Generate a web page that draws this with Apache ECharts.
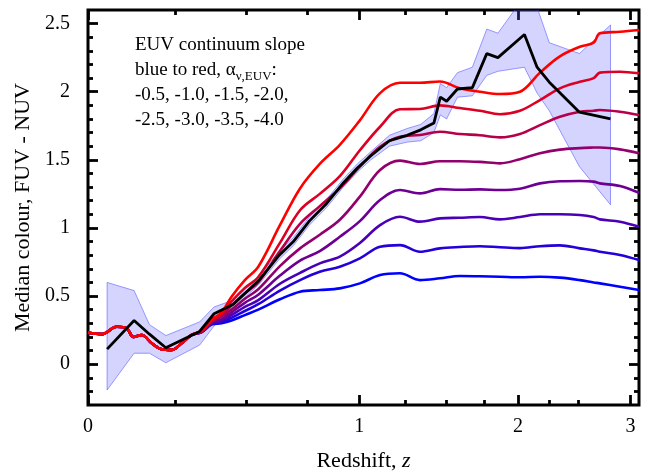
<!DOCTYPE html>
<html>
<head>
<meta charset="utf-8">
<script src="https://cdn.jsdelivr.net/npm/echarts@6/dist/echarts.min.js"></script>
<style>
  html, body { margin: 0; padding: 0; background: #fff; }
  #chart { width: 654px; height: 473px; }
</style>
</head>
<body>
<div id="chart"></div>
<script>
// Redshift grid shared by the model colour tracks
const zGrid = [0, 0.036, 0.076, 0.104, 0.123, 0.147, 0.177, 0.207, 0.238, 0.27, 0.303,
  0.337, 0.371, 0.407, 0.443, 0.493, 0.545, 0.633, 0.719, 0.808, 0.903, 1.003, 1.109,
  1.219, 1.335, 1.458, 1.586, 1.722, 1.865, 2.015, 2.173, 2.339, 2.514, 2.64, 2.698,
  2.893, 3.087];

// Model FUV - NUV tracks, one per EUV continuum slope
const slopeM05 = [0.23, 0.22, 0.275, 0.263, 0.20, 0.214, 0.153, 0.109, 0.104, 0.153, 0.214,
  0.235, 0.29, 0.30, 0.32, 0.36, 0.40, 0.476, 0.532, 0.544, 0.556, 0.593, 0.654, 0.667, 0.617,
  0.63, 0.647, 0.645, 0.642, 0.638, 0.642, 0.635, 0.617, 0.60, 0.593, 0.568, 0.544];
const slopeM10 = [0.23, 0.22, 0.275, 0.263, 0.20, 0.214, 0.153, 0.109, 0.104, 0.153, 0.214,
  0.236, 0.295, 0.31, 0.34, 0.39, 0.44, 0.54, 0.617, 0.678, 0.715, 0.777, 0.862, 0.874, 0.825,
  0.85, 0.86, 0.866, 0.858, 0.852, 0.866, 0.872, 0.850, 0.835, 0.825, 0.801, 0.764];
const slopeM15 = [0.23, 0.22, 0.275, 0.263, 0.20, 0.214, 0.153, 0.109, 0.104, 0.153, 0.214,
  0.237, 0.30, 0.32, 0.36, 0.42, 0.47, 0.59, 0.67, 0.74, 0.79, 0.89, 1.021, 1.082, 1.046,
  1.07, 1.075, 1.08, 1.063, 1.08, 1.10, 1.10, 1.095, 1.08, 1.063, 1.046, 1.009];
const slopeM20 = [0.23, 0.22, 0.275, 0.263, 0.20, 0.214, 0.153, 0.109, 0.104, 0.153, 0.214,
  0.238, 0.305, 0.33, 0.38, 0.45, 0.51, 0.65, 0.76, 0.83, 0.935, 1.05, 1.205, 1.278, 1.254,
  1.285, 1.28, 1.283, 1.278, 1.288, 1.327, 1.343, 1.345, 1.34, 1.327, 1.308, 1.258];
const slopeM25 = [0.23, 0.22, 0.275, 0.263, 0.20, 0.214, 0.153, 0.109, 0.104, 0.153, 0.214,
  0.24, 0.31, 0.35, 0.40, 0.48, 0.55, 0.72, 0.85, 0.95, 1.06, 1.23, 1.425, 1.494, 1.469,
  1.49, 1.49, 1.485, 1.474, 1.505, 1.548, 1.575, 1.586, 1.59, 1.591, 1.577, 1.548];
const slopeM30 = [0.23, 0.22, 0.275, 0.263, 0.20, 0.214, 0.153, 0.109, 0.104, 0.153, 0.214,
  0.24, 0.315, 0.36, 0.43, 0.52, 0.60, 0.83, 1.03, 1.16, 1.29, 1.45, 1.596, 1.670, 1.682,
  1.706, 1.69, 1.68, 1.665, 1.69, 1.755, 1.816, 1.853, 1.86, 1.866, 1.853, 1.829];
const slopeM35 = [0.23, 0.22, 0.275, 0.263, 0.20, 0.214, 0.153, 0.109, 0.104, 0.153, 0.214,
  0.242, 0.32, 0.37, 0.46, 0.56, 0.64, 0.89, 1.13, 1.25, 1.38, 1.57, 1.743, 1.871, 1.873,
  1.9, 1.88, 1.86, 1.835, 1.86, 1.939, 2.025, 2.073, 2.10, 2.14, 2.147, 2.135];
const slopeM40 = [0.23, 0.22, 0.275, 0.263, 0.20, 0.214, 0.153, 0.109, 0.104, 0.153, 0.214,
  0.245, 0.324, 0.38, 0.495, 0.617, 0.715, 1.02, 1.29, 1.47, 1.61, 1.79, 1.99, 2.066, 2.066,
  2.075, 2.025, 2.0, 1.983, 2.0, 2.14, 2.26, 2.33, 2.36, 2.43, 2.44, 2.453];

const slopeNames = ['-0.5', '-1.0', '-1.5', '-2.0', '-2.5', '-3.0', '-3.5', '-4.0'];
const slopeTracks = [slopeM05, slopeM10, slopeM15, slopeM20, slopeM25, slopeM30, slopeM35, slopeM40];
const slopeColours = ['#0000ff', '#2400db', '#4900b6', '#6d0092', '#92006d', '#b60049', '#db0024', '#ff0000'];

// Observed median colour with its scatter band
const obsZ = [0.05, 0.125, 0.17, 0.22, 0.33, 0.38, 0.45, 0.55, 0.63, 0.69, 0.76, 0.84, 0.92,
  0.99, 1.06, 1.16, 1.26, 1.34, 1.42, 1.46, 1.50, 1.57, 1.67, 1.77, 1.85, 2.05, 2.15, 2.25,
  2.51, 2.80];
const obsMedian = [0.11, 0.32, 0.22, 0.12, 0.24, 0.37, 0.44, 0.62, 0.80, 0.90, 1.05, 1.18, 1.33,
  1.44, 1.53, 1.64, 1.68, 1.72, 1.77, 1.96, 1.93, 2.02, 2.03, 2.28, 2.25, 2.42, 2.18, 2.07,
  1.85, 1.80];
const obsLow = [-0.19, 0.08, 0.08, 0.01, 0.14, 0.28, 0.41, 0.59, 0.77, 0.87, 1.02, 1.15, 1.30,
  1.41, 1.50, 1.60, 1.63, 1.64, 1.70, 1.83, 1.80, 1.96, 1.97, 2.12, 2.15, 2.18, 1.99, 1.86,
  1.45, 1.17];
const obsHigh = [0.60, 0.54, 0.29, 0.21, 0.31, 0.42, 0.47, 0.65, 0.83, 0.93, 1.08, 1.21, 1.36,
  1.47, 1.56, 1.68, 1.73, 1.76, 1.84, 2.06, 2.03, 2.14, 2.18, 2.46, 2.43, 2.70, 2.62, 2.36,
  2.28, 2.49];

// Axis ticks
const zMajor = [0, 1, 2, 3];
const zMinor = [0.25, 0.5, 0.75, 1.25, 1.5, 1.75, 2.25, 2.5];
const zMax = 3.087;
const colourMajor = [0, 0.5, 1, 1.5, 2, 2.5];
const colourMinor = [-0.2, -0.1, 0.1, 0.2, 0.3, 0.4, 0.6, 0.7, 0.8, 0.9, 1.1, 1.2, 1.3, 1.4,
  1.6, 1.7, 1.8, 1.9, 2.1, 2.2, 2.3, 2.4];
const colourMin = -0.3, colourMax = 2.6;

// The redshift axis is linear in log(1+z)
const xOf = z => Math.log10(1 + z);
const FONT = '"Liberation Serif", "DejaVu Serif", serif';

function xAxisDef(position, ticks, len, withLabels) {
  return {
    type: 'value', position: position, min: 0, max: xOf(zMax),
    axisLine: { show: false, onZero: false },
    axisTick: { show: true, inside: true, length: len, customValues: ticks.map(xOf),
      lineStyle: { color: '#000', width: 2.8 } },
    axisLabel: withLabels ? {
      show: true, customValues: ticks.map(xOf), margin: 12, color: '#000',
      fontFamily: FONT, fontSize: 20,
      formatter: v => String(Math.round(Math.pow(10, v) - 1))
    } : { show: false },
    splitLine: { show: false }
  };
}
function yAxisDef(position, ticks, len, withLabels) {
  return {
    type: 'value', position: position, min: colourMin, max: colourMax,
    axisLine: { show: false, onZero: false },
    axisTick: { show: true, inside: true, length: len, customValues: ticks,
      lineStyle: { color: '#000', width: 2.8 } },
    axisLabel: withLabels ? {
      show: true, customValues: ticks, margin: 18, color: '#000',
      fontFamily: FONT, fontSize: 20, formatter: v => String(v)
    } : { show: false },
    splitLine: { show: false }
  };
}

const xMain = xAxisDef('bottom', zMajor, 10, true);
xMain.name = 'Redshift, {i|z}';
xMain.nameLocation = 'middle';
xMain.nameGap = 45;
xMain.nameTextStyle = { color: '#000', fontFamily: FONT, fontSize: 22,
  rich: { i: { fontFamily: FONT, fontSize: 22, fontStyle: 'italic', color: '#000' } } };

const yMain = yAxisDef('left', colourMajor, 10, true);
yMain.name = 'Median colour, FUV - NUV';
yMain.nameLocation = 'middle';
yMain.nameGap = 52;
yMain.nameTextStyle = { color: '#000', fontFamily: FONT, fontSize: 22 };

const trackSeries = slopeTracks.map((vals, i) => ({
  type: 'line',
  name: slopeNames[i],
  data: zGrid.map((z, k) => [xOf(z), vals[k]]),
  showSymbol: false,
  smooth: 0.35,
  lineStyle: { color: slopeColours[i], width: 2.6 },
  z: 3 + i,
  silent: true
}));

const bandSeries = {
  type: 'custom',
  name: 'scatter',
  clip: true,
  data: [[xOf(obsZ[0]), obsMedian[0]]],
  encode: { x: 0, y: 1 },
  z: 1,
  silent: true,
  renderItem: function (params, api) {
    const pts = [];
    for (let k = 0; k < obsZ.length; k++) pts.push(api.coord([xOf(obsZ[k]), obsHigh[k]]));
    for (let k = obsZ.length - 1; k >= 0; k--) pts.push(api.coord([xOf(obsZ[k]), obsLow[k]]));
    const cs = params.coordSys;
    return {
      type: 'polygon',
      shape: { points: pts },
      clipPath: { type: 'rect', shape: { x: cs.x, y: cs.y, width: cs.width, height: cs.height } },
      style: { fill: 'rgba(95,95,255,0.27)', stroke: 'rgba(80,80,255,0.55)', lineWidth: 1 }
    };
  }
};

const medianSeries = {
  type: 'line',
  name: 'median',
  data: obsZ.map((z, k) => [xOf(z), obsMedian[k]]),
  showSymbol: false,
  lineStyle: { color: '#000', width: 2.8 },
  z: 20,
  silent: true
};

const chart = echarts.init(document.getElementById('chart'), null, { renderer: 'canvas' });
chart.setOption({
  animation: false,
  backgroundColor: '#fff',
  grid: { left: 88, right: 15, top: 10, bottom: 68, containLabel: false, outerBoundsMode: 'none',
    show: true, borderColor: '#000', borderWidth: 3, backgroundColor: 'transparent' },
  xAxis: [xMain, xAxisDef('bottom', zMinor, 5, false),
          xAxisDef('top', zMajor, 10, false), xAxisDef('top', zMinor, 5, false)],
  yAxis: [yMain, yAxisDef('left', colourMinor, 5, false),
          yAxisDef('right', colourMajor, 10, false), yAxisDef('right', colourMinor, 5, false)],
  graphic: [{
    type: 'text', left: 135, top: 33, z: 50,
    style: {
      text: 'EUV continuum slope\nblue to red, α{sub|ν,EUV}:\n-0.5, -1.0, -1.5, -2.0,\n-2.5, -3.0, -3.5, -4.0',
      font: '19px "Liberation Serif"', fill: '#000', lineHeight: 25,
      rich: { sub: { fontSize: 13, fontFamily: 'Liberation Serif', fill: '#000', verticalAlign: 'bottom', lineHeight: 14 } }
    }
  }],
  series: [bandSeries].concat(trackSeries, [medianSeries])
});
</script>
</body>
</html>
